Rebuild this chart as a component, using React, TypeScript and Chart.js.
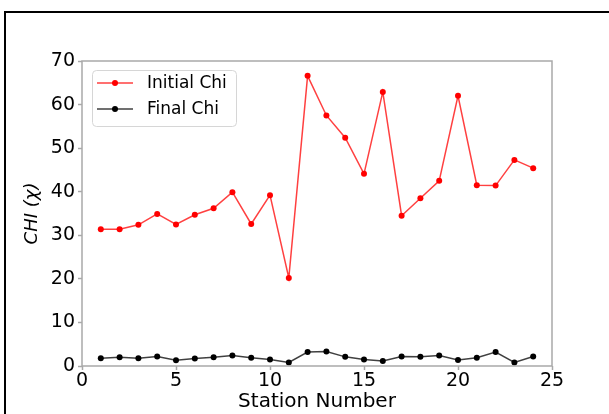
import React, { useEffect, useRef } from 'react';
import { Chart, registerables } from 'chart.js';

Chart.register(...registerables);

const stations = [1, 2, 3, 4, 5, 6, 7, 8, 9, 10, 11, 12, 13, 14, 15, 16, 17, 18, 19, 20, 21, 22, 23, 24];
const initialChi = [31.4, 31.4, 32.4, 34.9, 32.5, 34.7, 36.2, 39.9, 32.6, 39.2, 20.2, 66.6, 57.5, 52.4, 44.1, 62.9, 34.5, 38.5, 42.5, 62.0, 41.5, 41.4, 47.3, 45.4];
const finalChi = [1.8, 2.0, 1.8, 2.2, 1.3, 1.7, 2.0, 2.4, 1.9, 1.5, 0.8, 3.2, 3.3, 2.1, 1.5, 1.15, 2.2, 2.1, 2.4, 1.4, 1.9, 3.2, 0.8, 2.2];
const seriesLabels = ['Initial Chi', 'Final Chi'];
const xTitle = 'Station Number';
const yTitle = 'CHI (χ)';
const xRange = [0, 25];
const yRange = [0, 70];

const FONT = '"DejaVu Sans", sans-serif';
const SPINE = '#a9a9a9';

const framePlugin = {
  id: 'frame',
  afterDatasetsDraw(chart: any) {
    const { ctx, chartArea } = chart;
    ctx.save();
    ctx.strokeStyle = SPINE;
    ctx.lineWidth = 1.5;
    ctx.strokeRect(chartArea.left, chartArea.top, chartArea.right - chartArea.left, chartArea.bottom - chartArea.top);
    ctx.restore();
  },
};

const legendPlugin = {
  id: 'mplLegend',
  afterDraw(chart: any) {
    const { ctx, chartArea } = chart;
    const x0 = chartArea.left + 10;
    const y0 = chartArea.top + 9;
    const w = 144;
    const h = 56;
    ctx.save();
    ctx.beginPath();
    ctx.roundRect(x0 + 0.5, y0 + 0.5, w, h, 4);
    ctx.fillStyle = 'rgba(255,255,255,0.8)';
    ctx.fill();
    ctx.strokeStyle = '#d6d6d6';
    ctx.lineWidth = 1;
    ctx.stroke();
    chart.data.datasets.forEach((ds: any, i: number) => {
      const cy = y0 + 13 + i * 26;
      ctx.beginPath();
      ctx.moveTo(x0 + 5, cy);
      ctx.lineTo(x0 + 41, cy);
      ctx.strokeStyle = ds.borderColor;
      ctx.lineWidth = 1.5;
      ctx.stroke();
      ctx.beginPath();
      ctx.arc(x0 + 23, cy, 3, 0, Math.PI * 2);
      ctx.fillStyle = ds.pointBackgroundColor;
      ctx.fill();
      ctx.font = `17px ${FONT}`;
      ctx.fillStyle = '#000';
      ctx.textBaseline = 'middle';
      ctx.textAlign = 'left';
      ctx.fillText(ds.label, x0 + 55, cy + 1);
    });
    ctx.restore();
  },
};

export default function App() {
  const canvasRef = useRef<HTMLCanvasElement | null>(null);

  useEffect(() => {
    if (!canvasRef.current) return;
    const chart = new Chart(canvasRef.current, {
      type: 'line',
      data: {
        datasets: [
          {
            label: seriesLabels[0],
            data: stations.map((x, i) => ({ x, y: initialChi[i] })),
            borderColor: 'rgba(255,0,0,0.75)',
            backgroundColor: '#ff0000',
            pointBackgroundColor: '#ff0000',
            pointBorderWidth: 0,
            pointRadius: 3,
            borderWidth: 1.5,
            tension: 0,
          },
          {
            label: seriesLabels[1],
            data: stations.map((x, i) => ({ x, y: finalChi[i] })),
            borderColor: 'rgba(0,0,0,0.75)',
            backgroundColor: '#000000',
            pointBackgroundColor: '#000000',
            pointBorderWidth: 0,
            pointRadius: 3,
            borderWidth: 1.5,
            tension: 0,
          },
        ],
      },
      options: {
        animation: false,
        responsive: false,
        devicePixelRatio: 1,
        layout: { padding: { left: 0, top: 61, right: 57, bottom: 0 } },
        plugins: {
          legend: { display: false },
          tooltip: { enabled: false },
        },
        scales: {
          x: {
            type: 'linear',
            min: xRange[0],
            max: xRange[1],
            ticks: { stepSize: 5, color: '#000', font: { family: FONT, size: 19 }, padding: 0, maxRotation: 0 },
            grid: { drawOnChartArea: false, drawTicks: true, tickLength: 4, color: SPINE, tickWidth: 1.5 },
            border: { display: false },
            title: { display: true, text: xTitle, color: '#000', font: { family: FONT, size: 20 }, padding: { top: 0, bottom: 0 } },
            afterFit: (scale: any) => { scale.height = 48; },
          },
          y: {
            type: 'linear',
            min: yRange[0],
            max: yRange[1],
            ticks: { stepSize: 10, color: '#000', font: { family: FONT, size: 19 }, padding: 3 },
            grid: { drawOnChartArea: false, drawTicks: true, tickLength: 4, color: SPINE, tickWidth: 1.5 },
            border: { display: false },
            title: { display: true, text: yTitle, color: '#000', font: { family: FONT, size: 18, style: 'italic' }, padding: { top: 22, bottom: 0 } },
            afterFit: (scale: any) => { scale.width = 82; },
          },
        },
      },
      plugins: [framePlugin, legendPlugin],
    });
    return () => chart.destroy();
  }, []);

  return (
    <div style={{ position: 'absolute', left: 0, top: 0, width: 609, height: 414, overflow: 'hidden', background: '#fff' }}>
      <canvas ref={canvasRef} width={609} height={414} style={{ position: 'absolute', left: 0, top: 0, display: 'block' }} />
      <div style={{ position: 'absolute', left: 4, top: 11, width: 605, height: 403, borderTop: '2px solid #000', borderLeft: '2px solid #000', boxSizing: 'border-box', pointerEvents: 'none' }} />
    </div>
  );
}
